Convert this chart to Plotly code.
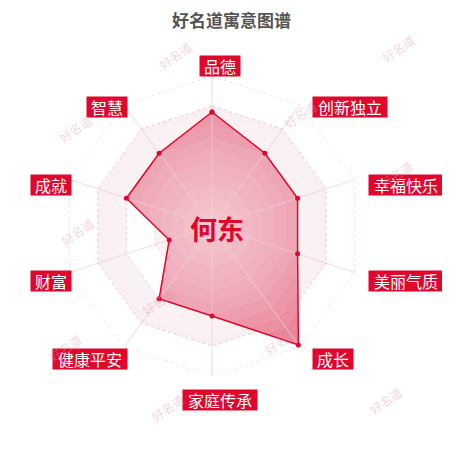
import math
import plotly.graph_objects as go

categories = ["品德", "创新独立", "幸福快乐", "美丽气质", "成长", "家庭传承", "健康平安", "财富", "成就", "智慧"]
values = [76, 60, 60, 60, 98, 60, 60, 30, 60, 60]
name_text = "何东"
title_text = "好名道寓意图谱"
watermark_text = "好名道"
ring_levels = [100, 80, 60, 40, 20]
glow_levels = [84, 76, 68, 60, 52, 44, 36, 28, 20, 12, 6]
r_max = 100

W = H = 450
CX, CY, R = 212, 225, 150
DX, DY = -8, -7  # correction for plotly's placement of the polygon grid
FONT = "Noto Sans CJK SC"
RED = "#e0062c"

closed_theta = categories + [categories[0]]
fig = go.Figure()

# alternating split areas
band_colors = ["rgba(255,255,255,1)", "rgba(249,239,242,1)", "rgba(255,255,255,1)",
               "rgba(249,239,242,1)", "rgba(255,255,255,1)"]
for lvl, col in zip(ring_levels, band_colors):
    fig.add_trace(go.Scatterpolar(
        r=[lvl] * len(closed_theta), theta=closed_theta,
        mode="lines", line=dict(color="rgba(0,0,0,0)", width=0),
        fill="toself", fillcolor=col, hoverinfo="skip", showlegend=False))

# dotted rings
for lvl in ring_levels:
    fig.add_trace(go.Scatterpolar(
        r=[lvl] * len(closed_theta), theta=closed_theta, mode="lines",
        line=dict(color="rgba(230,180,195,0.75)", width=1, dash="dot"),
        hoverinfo="skip", showlegend=False))

rr = values + [values[0]]

# data fill
fig.add_trace(go.Scatterpolar(r=rr, theta=closed_theta, mode="lines", fill="toself",
                              fillcolor="rgba(232,125,146,0.93)",
                              line=dict(color="rgba(0,0,0,0)", width=0),
                              hoverinfo="skip", showlegend=False))
# soft central glow (decorative)
for lvl in glow_levels:
    fig.add_trace(go.Scatterpolar(
        r=[lvl] * len(closed_theta), theta=closed_theta, mode="lines",
        line=dict(color="rgba(0,0,0,0)", width=0),
        fill="toself", fillcolor="rgba(255,255,255,0.075)",
        hoverinfo="skip", showlegend=False))
# spokes
for cat in categories:
    fig.add_trace(go.Scatterpolar(r=[0, r_max], theta=[cat, cat], mode="lines",
                                  line=dict(color="rgba(242,205,214,0.6)", width=1.2),
                                  hoverinfo="skip", showlegend=False))
# data line + markers
fig.add_trace(go.Scatterpolar(r=rr, theta=closed_theta, mode="lines+markers",
                              line=dict(color=RED, width=1.5),
                              marker=dict(color=RED, size=5), showlegend=False))

x0 = (CX + DX - R) / W
x1 = (CX + DX + R) / W
y0 = 1 - (CY + DY + R) / H
y1 = 1 - (CY + DY - R) / H

fig.update_layout(
    width=W, height=H, autosize=False,
    margin=dict(l=0, r=0, t=0, b=0),
    paper_bgcolor="white", plot_bgcolor="white",
    font=dict(family=FONT),
    polar=dict(
        domain=dict(x=[x0, x1], y=[y0, y1]),
        bgcolor="white",
        gridshape="linear",
        radialaxis=dict(range=[0, r_max], showticklabels=False, ticks="", showline=False,
                        showgrid=False),
        angularaxis=dict(rotation=90, direction="clockwise", showticklabels=False, ticks="",
                         showline=False, showgrid=False),
    ),
)

annotations = []
# axis name labels
for i, cat in enumerate(categories):
    a = 2 * math.pi * i / len(categories)
    px = CX + 156 * math.sin(a)
    py = CY - 156 * math.cos(a)
    s, c = math.sin(a), math.cos(a)
    xanchor = "center" if abs(s) < 1e-6 else ("left" if s > 0 else "right")
    if abs(s) < 1e-6:
        yanchor = "bottom" if c > 0 else "top"
    else:
        yanchor = "middle"
    annotations.append(dict(
        x=px / W, y=1 - py / H, xref="paper", yref="paper", text=cat, showarrow=False,
        xanchor=xanchor, yanchor=yanchor, bgcolor=RED, borderpad=0,
        width=len(cat) * 17 + 6, height=20,
        font=dict(family=FONT, size=16, color="white")))

# center name
annotations.append(dict(x=209 / W, y=1 - 221 / H, xref="paper", yref="paper", text=name_text,
                        showarrow=False, xanchor="center", yanchor="middle",
                        font=dict(family=FONT, size=27, color=RED, weight="bold")))
# title
annotations.append(dict(x=223 / W, y=1 - 11 / H, xref="paper", yref="paper", text=title_text,
                        showarrow=False, xanchor="center", yanchor="middle",
                        font=dict(family=FONT, size=17, color="#555555", weight="bold")))
# watermarks
wm_pos = [(167, 27), (412, 20), (292, 86), (45, 100), (410, 146), (47, 223),
          (150, 293), (35, 360), (273, 353), (160, 420), (400, 413)]
for (x, y) in wm_pos:
    annotations.append(dict(x=x / W, y=1 - y / H, xref="paper", yref="paper", text=watermark_text,
                            showarrow=False, textangle=-35,
                            font=dict(family=FONT, size=12, color="rgba(220,150,165,0.4)")))
fig.update_layout(annotations=annotations)

fig.write_html("out.html")
